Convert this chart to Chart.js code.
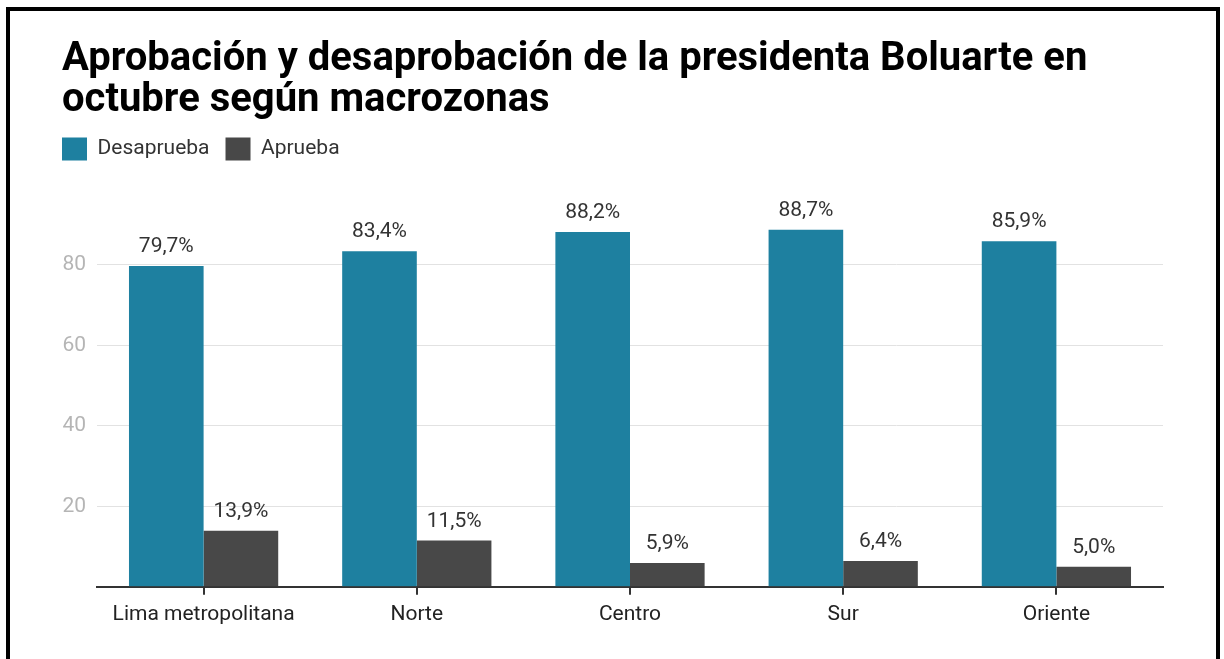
<!DOCTYPE html>
<html lang="es">
<head>
<meta charset="utf-8">
<title>Aprobación y desaprobación según macrozonas</title>
<script src="https://cdn.jsdelivr.net/npm/chart.js@4/dist/chart.umd.min.js"></script>
<style>
  html, body { margin: 0; padding: 0; background: #fff; }
  #wrap { position: relative; width: 1224px; height: 659px; overflow: hidden; }
  #frame {
    position: absolute; left: 6px; top: 7px; width: 1206px; height: 700px;
    border: 4px solid #000; box-sizing: content-box; pointer-events: none;
  }
  canvas { position: absolute; left: 0; top: 0; }
</style>
</head>
<body>
<div id="wrap">
  <canvas id="chart" width="1224" height="659"></canvas>
  <div id="frame"></div>
</div>
<script>
// 🔹 Data
const zonas = ["Lima metropolitana", "Norte", "Centro", "Sur", "Oriente"];
const desaprueba = [79.7, 83.4, 88.2, 88.7, 85.9];
const aprueba = [13.9, 11.5, 5.9, 6.4, 5.0];
const yTicks = [20, 40, 60, 80];

const FONT = "Roboto, 'Noto Sans', sans-serif";

// 🔹 Value labels above each bar ("79,7%")
const valueLabels = {
  id: "valueLabels",
  afterDatasetsDraw(chart) {
    const ctx = chart.ctx;
    ctx.save();
    ctx.font = "21px " + FONT;
    ctx.fillStyle = "#333";
    ctx.textAlign = "center";
    ctx.textBaseline = "middle";
    chart.data.datasets.forEach((ds, i) => {
      chart.getDatasetMeta(i).data.forEach((bar, j) => {
        const txt = ds.data[j].toFixed(1).replace(".", ",") + "%";
        ctx.fillText(txt, bar.x, bar.y - 19);
      });
    });
    ctx.restore();
  }
};

// 🔹 Legend: extra room below it, and flush left with the title
const legendTweak = {
  id: "legendTweak",
  beforeInit(chart) {
    const fit = chart.legend.fit;
    chart.legend.fit = function () {
      fit.bind(chart.legend)();
      this.height += 14;
    };
  },
  afterLayout(chart) {
    chart.legend.left -= 16;
    chart.legend.right -= 16;
  }
};

new Chart(document.getElementById("chart"), {
  type: "bar",
  data: {
    labels: zonas,
    datasets: [
      { label: "Desaprueba", data: desaprueba, backgroundColor: "#1e80a0" },
      { label: "Aprueba", data: aprueba, backgroundColor: "#484848" }
    ]
  },
  options: {
    responsive: false,
    animation: false,
    devicePixelRatio: 1,
    categoryPercentage: 0.7,
    barPercentage: 1,
    layout: { padding: { left: 62, right: 61, top: 39, bottom: 25 } },
    plugins: {
      tooltip: { enabled: false },
      title: {
        display: true,
        align: "start",
        text: ["Aprobación y desaprobación de la presidenta Boluarte en", "octubre según macrozonas"],
        color: "#000",
        font: { family: FONT, size: 40, weight: "bold", lineHeight: 1.03 },
        padding: { top: 0, bottom: 0 }
      },
      legend: {
        align: "start",
        labels: {
          boxWidth: 25,
          boxHeight: 23,
          padding: 16,
          color: "#333",
          font: { family: FONT, size: 21 }
        }
      }
    },
    scales: {
      x: {
        grid: {
          offset: false,
          drawOnChartArea: false,
          drawTicks: true,
          tickLength: 8,
          color: "#333",
          lineWidth: 2
        },
        border: { color: "#333", width: 2 },
        ticks: { color: "#222", padding: 7, font: { family: FONT, size: 21 } }
      },
      y: {
        min: 0,
        max: 100,
        afterFit(scale) { scale.width = 35; },
        afterBuildTicks(scale) { scale.ticks = [0].concat(yTicks).concat([100]).map(v => ({ value: v })); },
        grid: {
          drawTicks: false,
          color: c => (c.tick && yTicks.includes(c.tick.value)) ? "#e2e2e2" : "rgba(0,0,0,0)",
          lineWidth: 1
        },
        border: { display: false },
        ticks: {
          padding: 11,
          color: "#b5b5b5",
          font: { family: FONT, size: 21 },
          callback: v => yTicks.includes(v) ? String(v) : ""
        }
      }
    }
  },
  plugins: [valueLabels, legendTweak]
});
</script>
</body>
</html>
